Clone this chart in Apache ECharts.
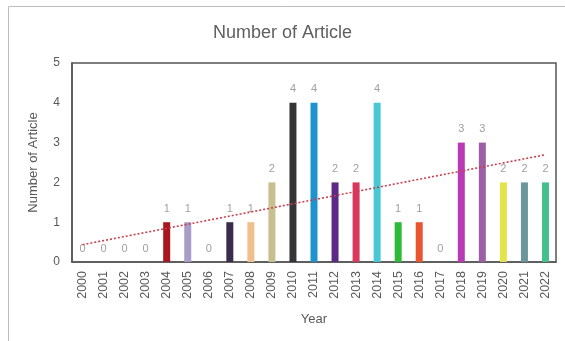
<!DOCTYPE html>
<html>
<head>
<meta charset="utf-8">
<script src="https://cdn.jsdelivr.net/npm/echarts@6/dist/echarts.min.js"></script>
<style>
  html, body { margin: 0; padding: 0; background: #fff; }
  #chart { width: 565px; height: 341px; }
</style>
</head>
<body>
<div id="chart"></div>
<script>
// Articles published per year
const years = ['2000','2001','2002','2003','2004','2005','2006','2007','2008','2009','2010','2011',
  '2012','2013','2014','2015','2016','2017','2018','2019','2020','2021','2022'];
const articles = [0,0,0,0,1,1,0,1,1,2,4,4,2,2,4,1,1,0,3,3,2,2,2];
const barColors = ['#9aa0b8','#9aa0b8','#9aa0b8','#9aa0b8','#a8161f','#a89cc8','#9aa0b8','#3a2c4c',
  '#f0c08c','#c8bf90','#353538','#1f93cc','#5a2a84','#d8385c','#48c8d4','#30b838','#e85530',
  '#9aa0b8','#b83ab4','#9e5ea6','#e2e44a','#6a969c','#44c08a'];
const yTicks = [0, 1, 2, 3, 4, 5];

// Least-squares linear trend over the year index
const n = articles.length;
const mx = (n - 1) / 2;
const my = articles.reduce((s, v) => s + v, 0) / n;
let sxy = 0, sxx = 0;
articles.forEach((v, i) => { sxy += (i - mx) * (v - my); sxx += (i - mx) * (i - mx); });
const slope = sxy / sxx;
const intercept = my - slope * mx;

const font = 'Liberation Sans';
const chart = echarts.init(document.getElementById('chart'));
chart.setOption({
  animation: false,
  title: {
    text: 'Number of Article',
    left: 'center',
    top: 19,
    textStyle: { fontFamily: font, fontSize: 18, fontWeight: 'normal', color: '#5f5f5f' }
  },
  grid: { left: 72, right: 9, top: 63, bottom: 79 },
  xAxis: {
    type: 'category',
    data: years,
    name: 'Year',
    nameLocation: 'middle',
    nameGap: 51,
    nameTextStyle: { fontFamily: font, fontSize: 13, color: '#595959' },
    axisLine: { show: true, lineStyle: { color: '#555', width: 1.5 } },
    axisTick: { show: false },
    axisLabel: { rotate: 90, margin: 9, fontFamily: font, fontSize: 12.5, color: '#595959', interval: 0 }
  },
  yAxis: {
    type: 'value',
    min: yTicks[0],
    max: yTicks[yTicks.length - 1],
    interval: 1,
    name: 'Number of Article',
    nameLocation: 'middle',
    nameGap: 32,
    nameTextStyle: { fontFamily: font, fontSize: 13, color: '#595959' },
    axisLine: { show: true, lineStyle: { color: '#555', width: 1.5 } },
    axisTick: { show: false },
    splitLine: { show: false },
    axisLabel: { margin: 12, fontFamily: font, fontSize: 12, color: '#595959' }
  },
  series: [
    {
      type: 'bar',
      barWidth: 7,
      data: articles.map((v, i) => ({ value: v, itemStyle: { color: barColors[i] } })),
      label: {
        show: true,
        position: 'top',
        distance: 8,
        fontFamily: font,
        fontSize: 11,
        color: '#a0a0a0'
      },
      markLine: {
        silent: true,
        symbol: 'none',
        label: { show: false },
        lineStyle: { color: '#c8404c', type: [2, 2], width: 1.6 },
        data: [[
          { coord: [years[0], intercept] },
          { coord: [years[n - 1], intercept + slope * (n - 1)] }
        ]]
      }
    }
  ]
});

// Outer frame and a closed box round the plot area
const gridRect = chart.getModel().getComponent('grid').coordinateSystem.getRect();
chart.setOption({
  graphic: [{
    type: 'rect',
    shape: { x: 8.5, y: 6.5, width: 570, height: 350 },
    style: { fill: 'none', stroke: '#bcbcbc', lineWidth: 1 },
    silent: true
  }, {
    type: 'rect',
    shape: { x: gridRect.x, y: gridRect.y, width: gridRect.width, height: gridRect.height },
    style: { fill: 'none', stroke: '#555', lineWidth: 1.5 },
    silent: true
  }]
});
</script>
</body>
</html>
